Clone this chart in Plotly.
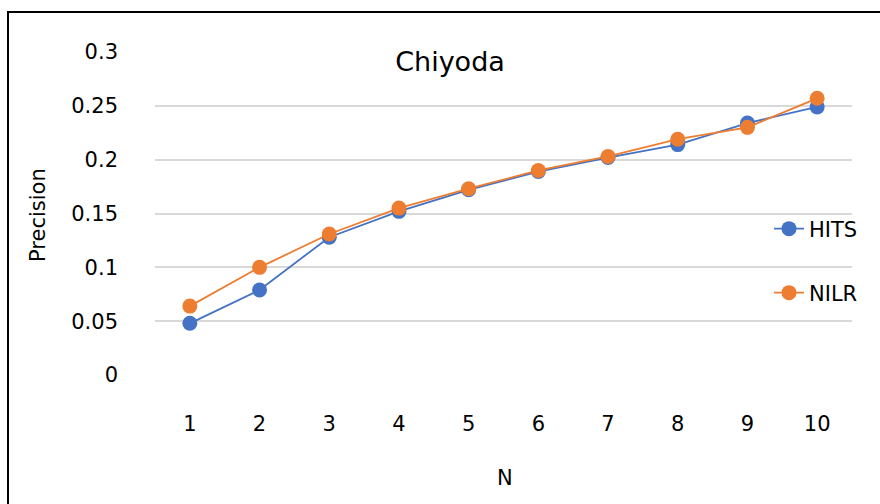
import plotly.graph_objects as go

# Precision at N for the Chiyoda ward
n_values = [1, 2, 3, 4, 5, 6, 7, 8, 9, 10]
hits = [0.048, 0.079, 0.128, 0.152, 0.172, 0.189, 0.202, 0.214, 0.234, 0.249]
nilr = [0.064, 0.100, 0.131, 0.155, 0.173, 0.190, 0.203, 0.219, 0.230, 0.257]
y_ticks = [0, 0.05, 0.1, 0.15, 0.2, 0.25, 0.3]
y_tick_text = ["0", "0.05", "0.1", "0.15", "0.2", "0.25", "0.3"]

BLUE = "#4472c4"
ORANGE = "#ed7d31"
FONT = "DejaVu Sans"

W, H = 880, 504
L, R, T, B = 155, 28, 52, 129
PW, PH = W - L - R, H - T - B


def px_x(x):
    return (x - L) / PW


def px_y(y):
    return (H - B - y) / PH


fig = go.Figure()
fig.add_trace(go.Scatter(
    x=n_values, y=hits, name="HITS", mode="lines+markers",
    line=dict(color=BLUE, width=1.8),
    marker=dict(color=BLUE, size=15),
    legend="legend", showlegend=True,
))
fig.add_trace(go.Scatter(
    x=n_values, y=nilr, name="NILR", mode="lines+markers",
    line=dict(color=ORANGE, width=1.8),
    marker=dict(color=ORANGE, size=15),
    legend="legend2", showlegend=True,
))

legend_style = dict(
    xanchor="left", yanchor="middle", bgcolor="rgba(0,0,0,0)",
    font=dict(family=FONT, size=21, color="#000000"),
)

fig.update_layout(
    width=W, height=H,
    margin=dict(l=L, r=R, t=T, b=B),
    showlegend=True,
    paper_bgcolor="white", plot_bgcolor="white",
    font=dict(family=FONT, size=21, color="#000000"),
    title=dict(
        text="Chiyoda", font=dict(family=FONT, size=27, color="#000000"),
        xref="paper", x=px_x(450), xanchor="center",
        yref="container", y=1 - 62 / H, yanchor="middle",
    ),
    xaxis=dict(
        type="linear", range=[0.5, 10.5], tickmode="array",
        tickvals=n_values, ticktext=[str(v) for v in n_values],
        showgrid=False, zeroline=False, showline=False,
        ticks="", ticklabelstandoff=34,
    ),
    yaxis=dict(
        range=[0, 0.3], tickmode="array", tickvals=y_ticks, ticktext=y_tick_text,
        showgrid=True, gridcolor="#d9d9d9", gridwidth=1.5,
        zeroline=False, showline=False, ticks="", ticklabelstandoff=36,
    ),
    legend=dict(x=px_x(769), y=px_y(229), visible=True, **legend_style),
    legend2=dict(x=px_x(769), y=px_y(293), visible=True, **legend_style),
    annotations=[
        dict(text="Precision", xref="paper", yref="paper", x=px_x(38), y=px_y(215),
             textangle=-90, showarrow=False, xanchor="center", yanchor="middle",
             font=dict(family=FONT, size=21, color="#000000")),
        dict(text="N", xref="paper", yref="paper", x=px_x(505), y=px_y(478),
             showarrow=False, xanchor="center", yanchor="middle",
             font=dict(family=FONT, size=21, color="#000000")),
    ],
    shapes=[
        dict(type="rect", xref="paper", yref="paper",
             x0=px_x(8), x1=px_x(900), y0=px_y(520), y1=px_y(12),
             line=dict(color="#000000", width=2), fillcolor="rgba(0,0,0,0)",
             layer="above"),
    ],
)

fig.write_html("out.html")
